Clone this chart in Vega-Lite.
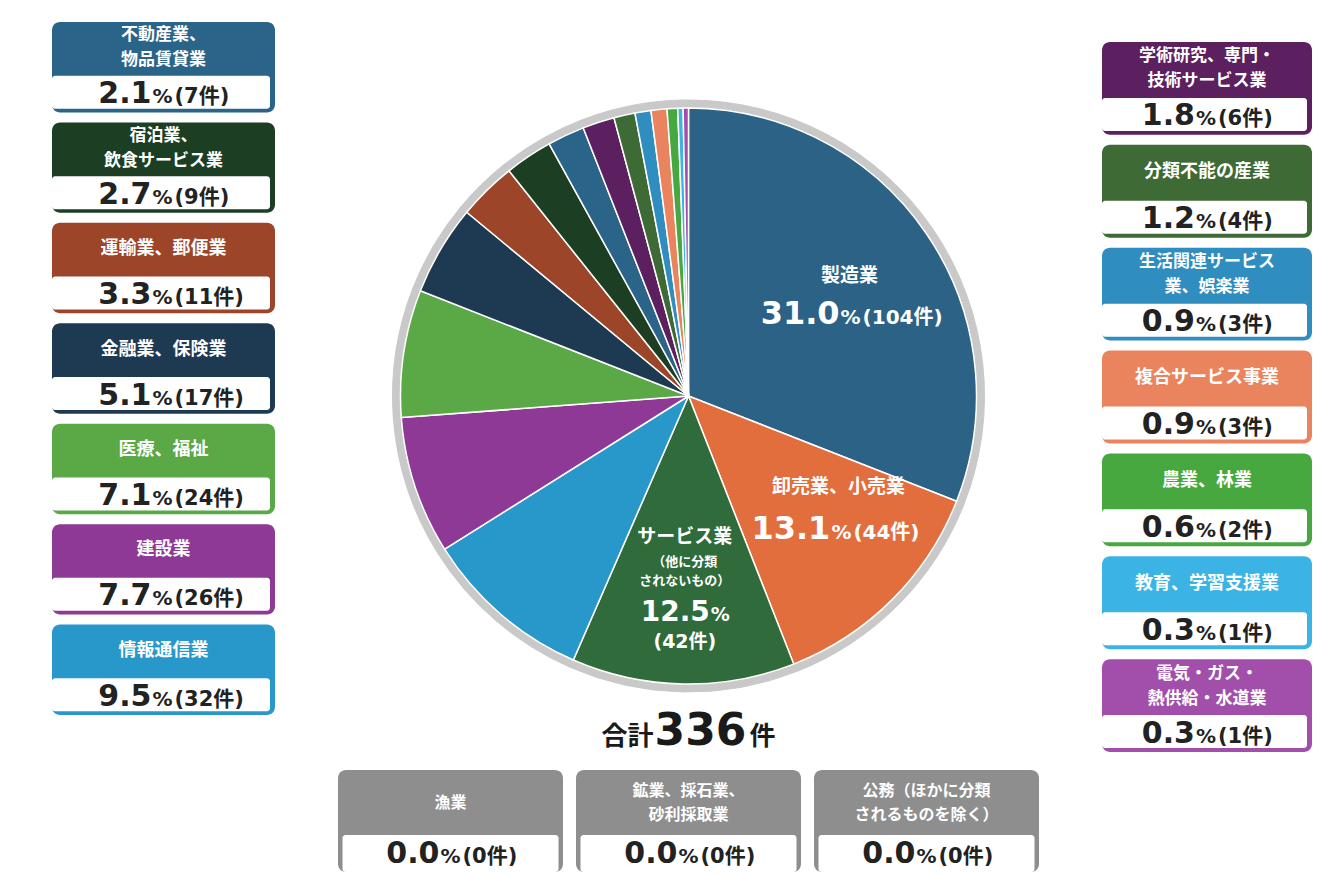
{
  "$schema": "https://vega.github.io/schema/vega-lite/v6.json",
  "background": "white",
  "padding": {"left": 52, "top": 22, "right": 0, "bottom": 0},
  "spacing": 20,
  "config": {"view": {"stroke": null}},
  "datasets": {
    "industries": [
      {"name": "製造業", "label": "製造業", "pct": 31.0, "count": 104, "unit": "(104件)"},
      {"name": "卸売業、小売業", "label": "卸売業、小売業", "pct": 13.1, "count": 44, "unit": "(44件)"},
      {"name": "サービス業（他に分類されないもの）", "label": "サービス業", "note": "（他に分類\nされないもの）", "pct": 12.5, "count": 42, "unit": "(42件)"},
      {"name": "情報通信業", "label": "情報通信業", "pct": 9.5, "count": 32, "unit": "(32件)"},
      {"name": "建設業", "label": "建設業", "pct": 7.7, "count": 26, "unit": "(26件)"},
      {"name": "医療、福祉", "label": "医療、福祉", "pct": 7.1, "count": 24, "unit": "(24件)"},
      {"name": "金融業、保険業", "label": "金融業、保険業", "pct": 5.1, "count": 17, "unit": "(17件)"},
      {"name": "運輸業、郵便業", "label": "運輸業、郵便業", "pct": 3.3, "count": 11, "unit": "(11件)"},
      {"name": "宿泊業、飲食サービス業", "label": "宿泊業、\n飲食サービス業", "pct": 2.7, "count": 9, "unit": "(9件)"},
      {"name": "不動産業、物品賃貸業", "label": "不動産業、\n物品賃貸業", "pct": 2.1, "count": 7, "unit": "(7件)"},
      {"name": "学術研究、専門・技術サービス業", "label": "学術研究、専門・\n技術サービス業", "pct": 1.8, "count": 6, "unit": "(6件)"},
      {"name": "分類不能の産業", "label": "分類不能の産業", "pct": 1.2, "count": 4, "unit": "(4件)"},
      {"name": "生活関連サービス業、娯楽業", "label": "生活関連サービス\n業、娯楽業", "pct": 0.9, "count": 3, "unit": "(3件)"},
      {"name": "複合サービス事業", "label": "複合サービス事業", "pct": 0.9, "count": 3, "unit": "(3件)"},
      {"name": "農業、林業", "label": "農業、林業", "pct": 0.6, "count": 2, "unit": "(2件)"},
      {"name": "教育、学習支援業", "label": "教育、学習支援業", "pct": 0.3, "count": 1, "unit": "(1件)"},
      {"name": "電気・ガス・熱供給・水道業", "label": "電気・ガス・\n熱供給・水道業", "pct": 0.3, "count": 1, "unit": "(1件)"},
      {"name": "漁業", "label": "漁業", "pct": 0.0, "count": 0, "unit": "(0件)"},
      {"name": "鉱業、採石業、砂利採取業", "label": "鉱業、採石業、\n砂利採取業", "pct": 0.0, "count": 0, "unit": "(0件)"},
      {"name": "公務（他に分類されるものを除く）", "label": "公務（ほかに分類\nされるものを除く）", "pct": 0.0, "count": 0, "unit": "(0件)"}
    ]
  },
  "hconcat": [
    {
      "width": 223,
      "height": 693,
      "data": {"name": "industries"},
      "transform": [{"filter": "datum.count >= 7 && datum.count < 40"}],
      "encoding": {
        "y": {"field": "name", "type": "nominal", "axis": null,
          "sort": ["不動産業、物品賃貸業", "宿泊業、飲食サービス業", "運輸業、郵便業", "金融業、保険業", "医療、福祉", "建設業", "情報通信業"],
          "scale": {"paddingInner": 0.09957, "paddingOuter": 0}}
      },
      "layer": [
        {"mark": {"type": "rect", "cornerRadius": 8},
          "encoding": {"color": {"field": "name", "type": "nominal", "legend": null,
            "scale": {"domain": ["製造業", "卸売業、小売業", "サービス業（他に分類されないもの）", "情報通信業", "建設業", "医療、福祉", "金融業、保険業", "運輸業、郵便業", "宿泊業、飲食サービス業", "不動産業、物品賃貸業", "学術研究、専門・技術サービス業", "分類不能の産業", "生活関連サービス業、娯楽業", "複合サービス事業", "農業、林業", "教育、学習支援業", "電気・ガス・熱供給・水道業"],
              "range": ["#2c6286", "#e26d3d", "#2f6b3b", "#2897c9", "#8d3995", "#5aa846", "#1e3a52", "#9d4529", "#1c3e23", "#2b6489", "#5c1f5f", "#3e6a35", "#2f8dc0", "#e9845f", "#46a83f", "#3bb3e5", "#a24fab"]}}}},
        {"mark": {"type": "rect", "color": "white", "height": 33, "yOffset": 25, "xOffset": -5, "x2Offset": 5, "cornerRadius": 3}},
        {"transform": [{"filter": "indexof(datum.label, '\\n') < 0"}],
          "mark": {"type": "text", "color": "white", "font": "Noto Sans CJK JP", "fontWeight": "bold", "fontSize": 18, "baseline": "middle", "dy": -19},
          "encoding": {"text": {"field": "label", "type": "nominal"}}},
        {"transform": [{"filter": "indexof(datum.label, '\\n') >= 0"}],
          "mark": {"type": "text", "color": "white", "font": "Noto Sans CJK JP", "fontWeight": "bold", "fontSize": 17, "lineBreak": "\n", "lineHeight": 25, "baseline": "middle", "dy": -32},
          "encoding": {"text": {"field": "label", "type": "nominal"}}},
        {"mark": {"type": "text", "color": "#222222", "font": "DejaVu Sans", "fontWeight": "bold", "fontSize": 30, "align": "right", "baseline": "alphabetic", "dx": -12, "dy": 36},
          "encoding": {"text": {"field": "pct", "type": "quantitative", "format": ".1f"}}},
        {"mark": {"type": "text", "text": "%", "color": "#222222", "font": "DejaVu Sans", "fontWeight": "bold", "fontSize": 20, "align": "left", "baseline": "alphabetic", "dx": -11, "dy": 36}},
        {"mark": {"type": "text", "color": "#222222", "font": "DejaVu Sans, Noto Sans CJK JP", "fontWeight": "bold", "fontSize": 21, "align": "left", "baseline": "alphabetic", "dx": 11, "dy": 36},
          "encoding": {"text": {"field": "unit", "type": "nominal"}}}
      ]
    },
    {
      "spacing": 0,
      "vconcat": [
        {
          "width": 787,
          "height": 748,
          "data": {"name": "industries"},
          "transform": [{"filter": "datum.count > 0"}],
          "layer": [
            {
              "encoding": {
                "theta": {"field": "count", "type": "quantitative", "stack": true},
                "order": {"field": "count", "type": "quantitative", "sort": "descending"}
              },
              "layer": [
                {"mark": {"type": "arc", "radius": 296, "color": "#c9c9c9", "stroke": "#c9c9c9", "strokeWidth": 1}},
                {"mark": {"type": "arc", "radius": 288, "stroke": "white", "strokeWidth": 1.5},
                  "encoding": {"color": {"field": "name", "type": "nominal", "legend": null,
                    "scale": {"domain": ["製造業", "卸売業、小売業", "サービス業（他に分類されないもの）", "情報通信業", "建設業", "医療、福祉", "金融業、保険業", "運輸業、郵便業", "宿泊業、飲食サービス業", "不動産業、物品賃貸業", "学術研究、専門・技術サービス業", "分類不能の産業", "生活関連サービス業、娯楽業", "複合サービス事業", "農業、林業", "教育、学習支援業", "電気・ガス・熱供給・水道業"],
                      "range": ["#2c6286", "#e26d3d", "#2f6b3b", "#2897c9", "#8d3995", "#5aa846", "#1e3a52", "#9d4529", "#1c3e23", "#2b6489", "#5c1f5f", "#3e6a35", "#2f8dc0", "#e9845f", "#46a83f", "#3bb3e5", "#a24fab"]}}}},
                {"mark": {"type": "text", "radius": 195, "color": "white", "font": "Noto Sans CJK JP", "fontWeight": "bold", "fontSize": 19, "baseline": "bottom", "dy": 0},
                  "encoding": {"text": {"condition": {"test": "datum.count >= 100", "field": "label", "type": "nominal"}, "value": ""}}},
                {"mark": {"type": "text", "radius": 195, "color": "white", "font": "DejaVu Sans", "fontWeight": "bold", "fontSize": 32, "align": "right", "baseline": "alphabetic", "dx": -10, "dy": 38},
                  "encoding": {"text": {"condition": {"test": "datum.count >= 100", "field": "pct", "type": "quantitative", "format": ".1f"}, "value": ""}}},
                {"mark": {"type": "text", "radius": 195, "color": "white", "font": "DejaVu Sans", "fontWeight": "bold", "fontSize": 20, "align": "left", "baseline": "alphabetic", "dx": -9, "dy": 38},
                  "encoding": {"text": {"condition": {"test": "datum.count >= 100", "value": "%"}, "value": ""}}},
                {"mark": {"type": "text", "radius": 195, "color": "white", "font": "DejaVu Sans, Noto Sans CJK JP", "fontWeight": "bold", "fontSize": 20, "align": "left", "baseline": "alphabetic", "dx": 13, "dy": 38},
                  "encoding": {"text": {"condition": {"test": "datum.count >= 100", "field": "unit", "type": "nominal"}, "value": ""}}},
                {"mark": {"type": "text", "radius": 195, "color": "white", "font": "Noto Sans CJK JP", "fontWeight": "bold", "fontSize": 19, "baseline": "bottom", "dx": 12, "dy": -37},
                  "encoding": {"text": {"condition": {"test": "datum.count >= 43 && datum.count < 100", "field": "label", "type": "nominal"}, "value": ""}}},
                {"mark": {"type": "text", "radius": 195, "color": "white", "font": "DejaVu Sans", "fontWeight": "bold", "fontSize": 32, "align": "right", "baseline": "alphabetic", "dx": 4, "dy": 5},
                  "encoding": {"text": {"condition": {"test": "datum.count >= 43 && datum.count < 100", "field": "pct", "type": "quantitative", "format": ".1f"}, "value": ""}}},
                {"mark": {"type": "text", "radius": 195, "color": "white", "font": "DejaVu Sans", "fontWeight": "bold", "fontSize": 20, "align": "left", "baseline": "alphabetic", "dx": 5, "dy": 5},
                  "encoding": {"text": {"condition": {"test": "datum.count >= 43 && datum.count < 100", "value": "%"}, "value": ""}}},
                {"mark": {"type": "text", "radius": 195, "color": "white", "font": "DejaVu Sans, Noto Sans CJK JP", "fontWeight": "bold", "fontSize": 20, "align": "left", "baseline": "alphabetic", "dx": 27, "dy": 5},
                  "encoding": {"text": {"condition": {"test": "datum.count >= 43 && datum.count < 100", "field": "unit", "type": "nominal"}, "value": ""}}},
                {"mark": {"type": "text", "radius": 195, "color": "white", "font": "Noto Sans CJK JP", "fontWeight": "bold", "fontSize": 19, "baseline": "middle", "dy": -54},
                  "encoding": {"text": {"condition": {"test": "datum.count >= 40 && datum.count < 43", "field": "label", "type": "nominal"}, "value": ""}}},
                {"mark": {"type": "text", "radius": 195, "color": "white", "font": "Noto Sans CJK JP", "fontWeight": "bold", "fontSize": 13, "lineBreak": "\n", "lineHeight": 19, "baseline": "middle", "dy": -29},
                  "encoding": {"text": {"condition": {"test": "datum.count >= 40 && datum.count < 43", "field": "note", "type": "nominal"}, "value": ""}}},
                {"mark": {"type": "text", "radius": 195, "color": "white", "font": "DejaVu Sans", "fontWeight": "bold", "fontSize": 28, "align": "right", "baseline": "alphabetic", "dx": 25, "dy": 30},
                  "encoding": {"text": {"condition": {"test": "datum.count >= 40 && datum.count < 43", "field": "pct", "type": "quantitative", "format": ".1f"}, "value": ""}}},
                {"mark": {"type": "text", "radius": 195, "color": "white", "font": "DejaVu Sans", "fontWeight": "bold", "fontSize": 19, "align": "left", "baseline": "alphabetic", "dx": 26, "dy": 30},
                  "encoding": {"text": {"condition": {"test": "datum.count >= 40 && datum.count < 43", "value": "%"}, "value": ""}}},
                {"mark": {"type": "text", "radius": 195, "color": "white", "font": "DejaVu Sans, Noto Sans CJK JP", "fontWeight": "bold", "fontSize": 19, "align": "center", "baseline": "alphabetic", "dx": 0, "dy": 57},
                  "encoding": {"text": {"condition": {"test": "datum.count >= 40 && datum.count < 43", "field": "unit", "type": "nominal"}, "value": ""}}}
              ]
            },
            {
              "transform": [{"aggregate": [{"op": "sum", "field": "count", "as": "total"}]}],
              "layer": [
                {"mark": {"type": "text", "text": "合計", "color": "#1a1a1a", "font": "Noto Sans CJK JP", "fontWeight": "bold", "fontSize": 26, "align": "right", "baseline": "alphabetic", "dx": -35, "dy": 349}},
                {"mark": {"type": "text", "color": "#1a1a1a", "font": "DejaVu Sans", "fontWeight": "bold", "fontSize": 44, "align": "center", "baseline": "alphabetic", "dx": 12, "dy": 349},
                  "encoding": {"text": {"field": "total", "type": "quantitative", "format": "d"}}},
                {"mark": {"type": "text", "text": "件", "color": "#1a1a1a", "font": "Noto Sans CJK JP", "fontWeight": "bold", "fontSize": 26, "align": "left", "baseline": "alphabetic", "dx": 61, "dy": 349}}
              ]
            }
          ]
        },
        {
          "width": 787,
          "height": 102,
          "data": {"name": "industries"},
          "transform": [{"filter": "datum.count == 0"}],
          "encoding": {
            "x": {"field": "name", "type": "nominal", "axis": null,
              "sort": ["漁業", "鉱業、採石業、砂利採取業", "公務（他に分類されるものを除く）"],
              "scale": {"paddingInner": 0.05462, "paddingOuter": 0.1807}}
          },
          "layer": [
            {"mark": {"type": "rect", "color": "#8e8e8e", "cornerRadius": 8}},
            {"mark": {"type": "rect", "color": "white", "width": {"band": 0.96}, "yOffset": 65, "y2Offset": -4, "cornerRadius": 3}},
            {"transform": [{"filter": "indexof(datum.label, '\\n') < 0"}],
              "mark": {"type": "text", "color": "white", "font": "Noto Sans CJK JP", "fontWeight": "bold", "fontSize": 16, "baseline": "middle", "dy": -18},
              "encoding": {"text": {"field": "label", "type": "nominal"}}},
            {"transform": [{"filter": "indexof(datum.label, '\\n') >= 0"}],
              "mark": {"type": "text", "color": "white", "font": "Noto Sans CJK JP", "fontWeight": "bold", "fontSize": 16, "lineBreak": "\n", "lineHeight": 24, "baseline": "middle", "dy": -30},
              "encoding": {"text": {"field": "label", "type": "nominal"}}},
            {"mark": {"type": "text", "color": "#222222", "font": "DejaVu Sans", "fontWeight": "bold", "fontSize": 30, "align": "right", "baseline": "alphabetic", "dx": -11, "dy": 42},
              "encoding": {"text": {"field": "pct", "type": "quantitative", "format": ".1f"}}},
            {"mark": {"type": "text", "text": "%", "color": "#222222", "font": "DejaVu Sans", "fontWeight": "bold", "fontSize": 20, "align": "left", "baseline": "alphabetic", "dx": -10, "dy": 42}},
            {"mark": {"type": "text", "color": "#222222", "font": "DejaVu Sans, Noto Sans CJK JP", "fontWeight": "bold", "fontSize": 21, "align": "left", "baseline": "alphabetic", "dx": 12, "dy": 42},
              "encoding": {"text": {"field": "unit", "type": "nominal"}}}
          ]
        }
      ]
    },
    {
      "width": 210,
      "height": 730,
      "data": {"name": "industries"},
      "transform": [{"filter": "datum.count >= 1 && datum.count < 7"}],
      "encoding": {
        "y": {"field": "name", "type": "nominal", "axis": null,
          "sort": ["学術研究、専門・技術サービス業", "分類不能の産業", "生活関連サービス業、娯楽業", "複合サービス事業", "農業、林業", "教育、学習支援業", "電気・ガス・熱供給・水道業"],
          "scale": {"paddingInner": 0.09722, "paddingOuter": 0.09722, "align": 1}}
      },
      "layer": [
        {"mark": {"type": "rect", "cornerRadius": 8},
          "encoding": {"color": {"field": "name", "type": "nominal", "legend": null,
            "scale": {"domain": ["製造業", "卸売業、小売業", "サービス業（他に分類されないもの）", "情報通信業", "建設業", "医療、福祉", "金融業、保険業", "運輸業、郵便業", "宿泊業、飲食サービス業", "不動産業、物品賃貸業", "学術研究、専門・技術サービス業", "分類不能の産業", "生活関連サービス業、娯楽業", "複合サービス事業", "農業、林業", "教育、学習支援業", "電気・ガス・熱供給・水道業"],
              "range": ["#2c6286", "#e26d3d", "#2f6b3b", "#2897c9", "#8d3995", "#5aa846", "#1e3a52", "#9d4529", "#1c3e23", "#2b6489", "#5c1f5f", "#3e6a35", "#2f8dc0", "#e9845f", "#46a83f", "#3bb3e5", "#a24fab"]}}}},
        {"mark": {"type": "rect", "color": "white", "height": 33, "yOffset": 26, "xOffset": -5, "x2Offset": 5, "cornerRadius": 3}},
        {"transform": [{"filter": "indexof(datum.label, '\\n') < 0"}],
          "mark": {"type": "text", "color": "white", "font": "Noto Sans CJK JP", "fontWeight": "bold", "fontSize": 18, "baseline": "middle", "dy": -19},
          "encoding": {"text": {"field": "label", "type": "nominal"}}},
        {"transform": [{"filter": "indexof(datum.label, '\\n') >= 0"}],
          "mark": {"type": "text", "color": "white", "font": "Noto Sans CJK JP", "fontWeight": "bold", "fontSize": 17, "lineBreak": "\n", "lineHeight": 25, "baseline": "middle", "dy": -32},
          "encoding": {"text": {"field": "label", "type": "nominal"}}},
        {"mark": {"type": "text", "color": "#222222", "font": "DejaVu Sans", "fontWeight": "bold", "fontSize": 30, "align": "right", "baseline": "alphabetic", "dx": -12, "dy": 37},
          "encoding": {"text": {"field": "pct", "type": "quantitative", "format": ".1f"}}},
        {"mark": {"type": "text", "text": "%", "color": "#222222", "font": "DejaVu Sans", "fontWeight": "bold", "fontSize": 20, "align": "left", "baseline": "alphabetic", "dx": -11, "dy": 37}},
        {"mark": {"type": "text", "color": "#222222", "font": "DejaVu Sans, Noto Sans CJK JP", "fontWeight": "bold", "fontSize": 21, "align": "left", "baseline": "alphabetic", "dx": 11, "dy": 37},
          "encoding": {"text": {"field": "unit", "type": "nominal"}}}
      ]
    }
  ]
}
